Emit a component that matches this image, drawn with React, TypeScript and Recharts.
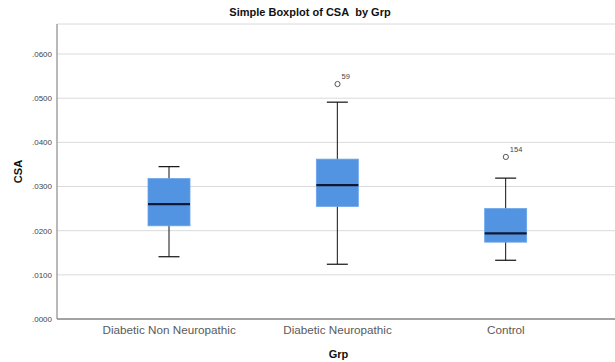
import { Bar, CartesianGrid, ComposedChart, Scatter, XAxis, YAxis } from "recharts";

const groups = ["Diabetic Non Neuropathic", "Diabetic Neuropathic", "Control"];
const whiskerLow = [0.0141, 0.0124, 0.0133];
const q1 = [0.0211, 0.0255, 0.0174];
const median = [0.026, 0.0303, 0.0194];
const q3 = [0.0318, 0.0362, 0.025];
const whiskerHigh = [0.0345, 0.0491, 0.0319];
const outlierValues: (number | null)[] = [null, 0.0532, 0.0367];
const outlierIds = ["", "59", "154"];
const yTicks = [0, 0.01, 0.02, 0.03, 0.04, 0.05, 0.06];

const rows = groups.map((grp, i) => ({
  grp,
  range: [whiskerLow[i], whiskerHigh[i]],
  lo: whiskerLow[i],
  q1: q1[i],
  med: median[i],
  q3: q3[i],
  hi: whiskerHigh[i],
  outlier: outlierValues[i],
  outlierId: outlierIds[i],
}));

const FONT = '"Liberation Sans", Arial, sans-serif';
const BOX = "#5294e2";

// eslint-disable-next-line @typescript-eslint/no-explicit-any
function BoxShape({ x, y, width, height, payload }: any) {
  const { lo, hi } = payload;
  const px = (v: number) => y + ((hi - v) / (hi - lo)) * height;
  const cx = x + width / 2;
  const cap = width / 2;
  return (
    <g>
      <line x1={cx} x2={cx} y1={px(hi)} y2={px(lo)} stroke="#111" strokeWidth={1} />
      <line x1={cx - cap / 2} x2={cx + cap / 2} y1={px(hi)} y2={px(hi)} stroke="#111" strokeWidth={1.2} />
      <line x1={cx - cap / 2} x2={cx + cap / 2} y1={px(lo)} y2={px(lo)} stroke="#111" strokeWidth={1.2} />
      <rect
        x={x}
        y={px(payload.q3)}
        width={width}
        height={px(payload.q1) - px(payload.q3)}
        fill={BOX}
        stroke="#6aa3e8"
        strokeWidth={0.8}
      />
      <line x1={x} x2={x + width} y1={px(payload.med)} y2={px(payload.med)} stroke="#111833" strokeWidth={2.2} />
    </g>
  );
}

// eslint-disable-next-line @typescript-eslint/no-explicit-any
function OutlierShape({ cx, cy, payload }: any) {
  if (payload == null || payload.outlier == null) return null;
  return (
    <g>
      <circle cx={cx} cy={cy} r={2.6} fill="#fff" stroke="#555" strokeWidth={1} />
      <text x={cx + 4} y={cy - 5} fontSize={7.5} fill="#444" fontFamily={FONT}>
        {payload.outlierId}
      </text>
    </g>
  );
}

export default function App() {
  return (
    <div style={{ position: "absolute", left: 0, top: 0, width: 615, height: 362, background: "#fff", overflow: "hidden" }}>
      <div
        style={{
          position: "absolute",
          left: 0,
          top: 6,
          width: 620,
          textAlign: "center",
          fontFamily: FONT,
          fontWeight: 700,
          fontSize: 11,
          color: "#111",
        }}
      >
        Simple Boxplot of CSA&nbsp; by Grp
      </div>
      <ComposedChart
        width={620}
        height={362}
        data={rows}
        margin={{ top: 24, right: 0, bottom: 0, left: 0 }}
      >
        <CartesianGrid vertical={false} stroke="#dadada" strokeWidth={1} />
        <XAxis
          dataKey="grp"
          type="category"
          height={43}
          padding={{ left: 28, right: 30 }}
          tickLine={false}
          tickSize={0}
          tickMargin={7}
          axisLine={{ stroke: "#8a8a8a", strokeWidth: 1.5 }}
          tick={{ fontSize: 11.7, fill: "#5a5a5a", fontFamily: FONT }}
          label={{
            value: "Grp",
            position: "insideBottom",
            offset: 4,
            style: { fontSize: 11, fontWeight: 700, fill: "#111", fontFamily: FONT },
          }}
        />
        <YAxis
          type="number"
          domain={[0, 0.0668]}
          ticks={yTicks}
          width={57}
          tickLine={false}
          tickSize={0}
          tickMargin={5}
          axisLine={{ stroke: "#8a8a8a", strokeWidth: 1.2 }}
          tickFormatter={(v: number) => v.toFixed(4).replace(/^0/, "")}
          tick={{ fontSize: 8, fill: "#444", fontFamily: FONT }}
          label={{
            value: "CSA",
            angle: -90,
            position: "insideLeft",
            offset: 18,
            style: { fontSize: 11, fontWeight: 700, fill: "#111", fontFamily: FONT, textAnchor: "middle" },
          }}
        />
        <Bar dataKey="range" barSize={42} shape={BoxShape} isAnimationActive={false} />
        <Scatter dataKey="outlier" shape={OutlierShape} isAnimationActive={false} />
      </ComposedChart>
    </div>
  );
}
